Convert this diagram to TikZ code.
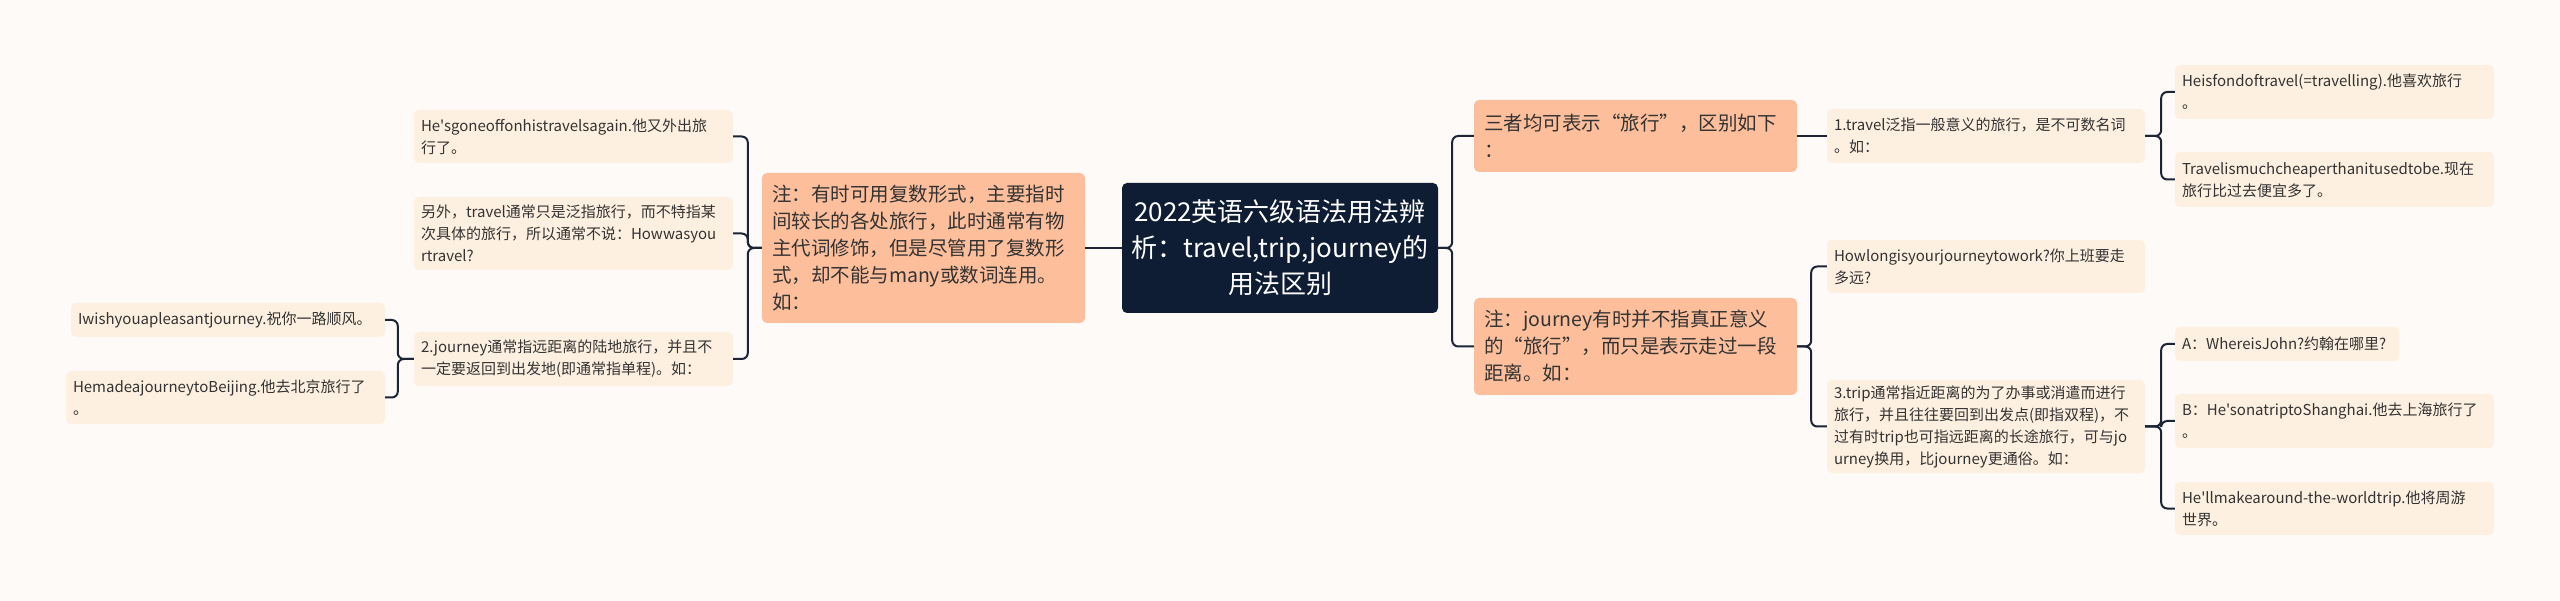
\documentclass[tikz,border=0pt]{standalone}
\usepackage{fontspec}
\setmainfont{Noto Sans CJK SC}[Ligatures=TeXOff]
\usepackage{xcolor}
\definecolor{bgpage}{HTML}{FDFAF8}
\definecolor{rootfill}{HTML}{0E1D33}
\definecolor{mainfill}{HTML}{FDBE9B}
\definecolor{leaffill}{HTML}{FEF0E0}
\definecolor{linkcol}{HTML}{1B2536}
\definecolor{txtcol}{HTML}{333333}
\tikzset{
  rootbox/.style={rounded corners=5pt, fill=rootfill, text=white, inner sep=0pt,
    text width=316pt, minimum height=130pt, align=center,
    font=\fontsize{26}{36}\selectfont},
  mainbox/.style={rounded corners=5pt, fill=mainfill, text=txtcol, inner xsep=10pt, inner ysep=0pt,
    text width=303pt, align=left, font=\fontsize{19.5}{27}\selectfont},
  leafbox/.style={rounded corners=5pt, fill=leaffill, text=txtcol, inner xsep=7pt, inner ysep=0pt,
    text width=305pt, align=left, font=\fontsize{15}{22}\selectfont},
  link/.style={draw=linkcol, line width=2pt, rounded corners=6pt}
}
\begin{document}
\begin{tikzpicture}[x=1pt,y=-1pt]
\fill[bgpage] (0,0) rectangle (2560,601);
\node[rootbox] (root) at (1280,248) {2022英语六级语法用法辨\\析：travel,trip,journey的\\用法区别};
\node[mainbox, minimum height=150pt] (noteL) at (923.5,248) {注：有时可用复数形式，主要指时\\间较长的各处旅行，此时通常有物\\主代词修饰，但是尽管用了复数形\\式，却不能与many或数词连用。\\如：};
\node[leafbox, minimum height=53pt] (ex1) at (573.5,136.5) {He'sgoneoffonhistravelsagain.他又外出旅\\行了。};
\node[leafbox, minimum height=73pt] (also) at (573.5,233.5) {另外，travel通常只是泛指旅行，而不特指某\\次具体的旅行，所以通常不说：Howwasyou\\rtravel?};
\node[leafbox, minimum height=54pt] (jour2) at (573.5,359) {2.journey通常指远距离的陆地旅行，并且不\\一定要返回到出发地(即通常指单程)。如：};
\node[leafbox, minimum height=34pt, text width=300pt] (wish) at (228,320) {Iwishyouapleasantjourney.祝你一路顺风。};
\node[leafbox, minimum height=53pt] (beijing) at (225.5,397.5) {HemadeajourneytoBeijing.他去北京旅行了\\。};
\node[mainbox, minimum height=72pt] (three) at (1635.5,136) {三者均可表示“旅行”，区别如下\\：};
\node[mainbox, minimum height=97pt] (noteR) at (1635.5,346.5) {注：journey有时并不指真正意义\\的“旅行”，而只是表示走过一段\\距离。如：};
\node[leafbox, minimum height=54pt, text width=304pt] (trav1) at (1986,136) {1.travel泛指一般意义的旅行，是不可数名词\\。如：};
\node[leafbox, minimum height=54pt] (fond) at (2334.5,92) {Heisfondoftravel(=travelling).他喜欢旅行\\。};
\node[leafbox, minimum height=55pt] (cheap) at (2334.5,179.5) {Travelismuchcheaperthanitusedtobe.现在\\旅行比过去便宜多了。};
\node[leafbox, minimum height=53pt, text width=304pt] (howlong) at (1986,266.5) {Howlongisyourjourneytowork?你上班要走\\多远?};
\node[leafbox, minimum height=93pt, text width=304pt] (trip3) at (1986,426.5) {3.trip通常指近距离的为了办事或消遣而进行\\旅行，并且往往要回到出发点(即指双程)，不\\过有时trip也可指远距离的长途旅行，可与jo\\urney换用，比journey更通俗。如：};
\node[leafbox, minimum height=34pt, text width=210pt] (whereA) at (2287,344) {A：WhereisJohn?约翰在哪里?};
\node[leafbox, minimum height=54pt] (shanghai) at (2334.5,421) {B：He'sonatriptoShanghai.他去上海旅行了\\。};
\node[leafbox, minimum height=53pt] (world) at (2334.5,508.5) {He'llmakearound-the-worldtrip.他将周游\\世界。};
\draw[link] (root.west) -- (noteL.east);
\draw[link] (three.east) -- (trav1.west);
\foreach \c in {ex1,also,jour2} {\draw[link] (noteL.west) -- ++(-14pt,0) |- (\c.east);}
\foreach \c in {wish,beijing} {\draw[link] (jour2.west) -- ++(-16pt,0) |- (\c.east);}
\foreach \c in {three,noteR} {\draw[link] (root.east) -- ++(14pt,0) |- (\c.west);}
\foreach \c in {fond,cheap} {\draw[link] (trav1.east) -- ++(16pt,0) |- (\c.west);}
\foreach \c in {howlong,trip3} {\draw[link] (noteR.east) -- ++(14pt,0) |- (\c.west);}
\foreach \c in {whereA,shanghai,world} {\draw[link] (trip3.east) -- ++(16pt,0) |- (\c.west);}
\end{tikzpicture}
\end{document}
